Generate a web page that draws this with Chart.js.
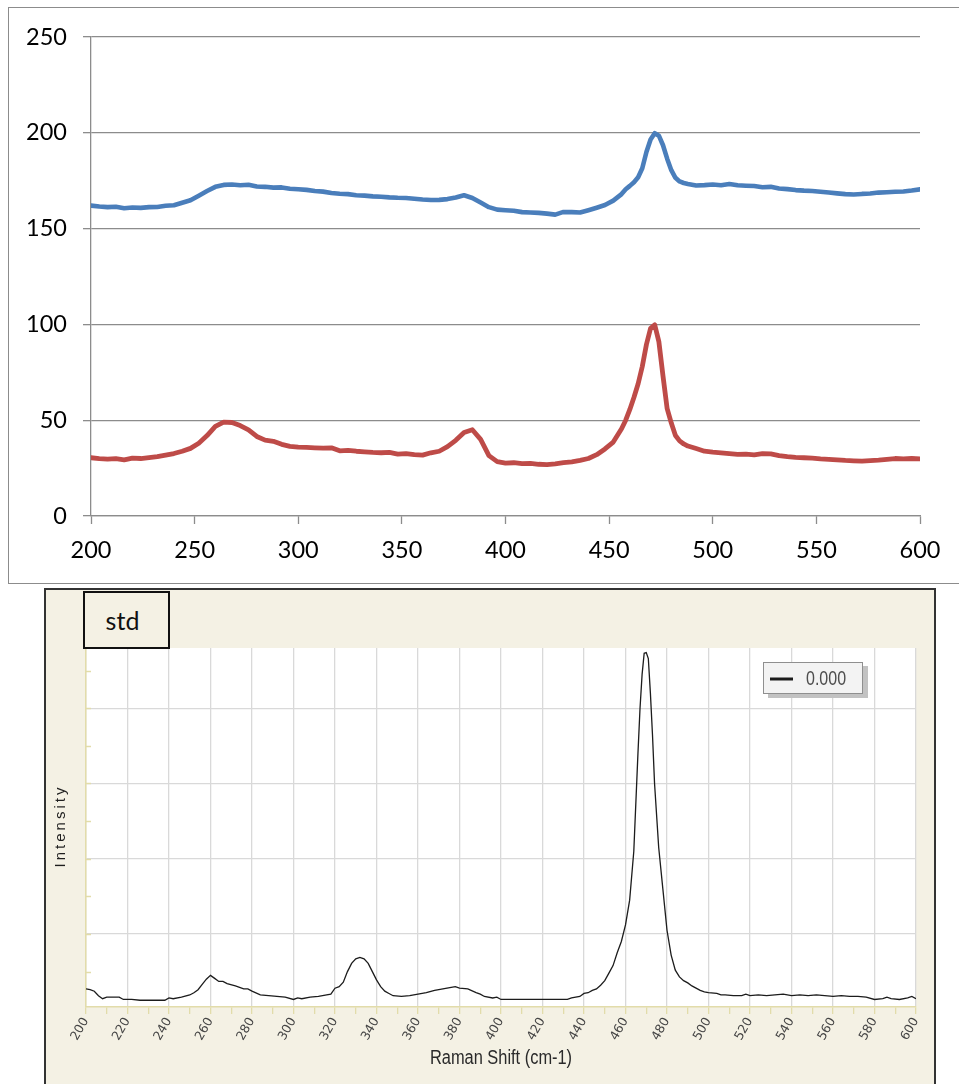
<!DOCTYPE html>
<html>
<head>
<meta charset="utf-8">
<script src="https://cdn.jsdelivr.net/npm/chart.js@4.4.1/dist/chart.umd.min.js"></script>
<style>
  html, body { margin: 0; padding: 0; background: #fff; width: 959px; height: 1084px; overflow: hidden; position: relative; }
  #frameTop { position: absolute; left: 8px; top: 7px; width: 1000px; height: 577px; border: 1.5px solid #8c8c8c; box-sizing: border-box; }
  #topWrap { position: absolute; left: 0; top: 0; width: 959px; height: 580px; }
  #frameStd { position: absolute; left: 44px; top: 588px; width: 892px; height: 520px; background: #f4f1e4; border: 2px solid #333; box-sizing: border-box; }
  #stdWrap { position: absolute; left: 0; top: 589px; width: 959px; height: 495px; }
  #stdTag { position: absolute; left: 83px; top: 591px; width: 87px; height: 58px; box-sizing: border-box; border: 2px solid #111; background: #f4f1e4;
            font: 25px Lato, "Open Sans", sans-serif; color: #111; display: flex; align-items: center; justify-content: center; padding-right: 8px; }
  canvas { display: block; }
</style>
</head>
<body>
<div id="frameTop"></div>
<div id="topWrap"><canvas id="topChart" width="959" height="580"></canvas></div>
<div id="frameStd"></div>
<div id="stdWrap"><canvas id="stdChart" width="959" height="495"></canvas></div>
<div id="stdTag">std</div>

<script>
// Raman shift positions (cm-1) shared by the two measured spectra
const topShift = [
  200,204,208,212,216,220,224,228,232,236,240,244,248,252,256,260,264,268,272,276,
  280,284,288,292,296,300,304,308,312,316,320,324,328,332,336,340,344,348,352,356,
  360,364,368,372,376,380,384,388,392,396,400,404,408,412,416,420,424,428,432,436,
  440,444,448,452,456,
  458,460,462,464,466,468,470,472,474,476,478,480,482,484,486,488,
  492,496,500,504,508,512,516,520,524,528,532,536,540,544,548,552,556,560,564,568,
  572,576,580,584,588,592,596,600
];

// Upper spectrum (blue)
const blueCounts = [
  162.0,161.5,161.2,161.4,160.6,161.0,160.8,161.2,161.3,161.9,162.2,163.5,164.8,167.2,169.6,171.8,172.8,173.0,172.6,172.9,
  172.0,171.8,171.4,171.5,170.8,170.5,170.2,169.6,169.3,168.6,168.2,168.0,167.4,167.2,166.8,166.6,166.3,166.1,166.0,165.6,
  165.2,164.9,165.0,165.4,166.2,167.4,166.0,163.6,161.2,159.9,159.6,159.3,158.6,158.4,158.2,157.8,157.3,158.7,158.6,158.4,
  159.6,160.9,162.3,164.6,168.0,
  170.5,172.3,174.2,176.8,181.5,190.0,196.5,199.8,198.5,193.5,186.5,180.5,176.5,174.6,173.8,173.3,
  172.5,172.7,173.0,172.6,173.3,172.6,172.4,172.2,171.6,171.8,170.9,170.6,170.1,169.8,169.6,169.2,168.8,168.4,168.0,167.8,
  168.1,168.3,168.8,169.0,169.2,169.4,169.9,170.5
];

// Lower spectrum (red)
const redCounts = [
  30.4,30.0,29.7,29.9,29.3,30.2,30.0,30.5,31.0,31.8,32.6,33.8,35.3,38.0,42.0,46.8,49.0,48.8,47.2,45.0,
  41.5,39.6,39.0,37.4,36.3,35.9,35.8,35.6,35.4,35.6,34.0,34.3,33.8,33.5,33.2,33.0,33.2,32.3,32.6,32.0,
  31.8,33.0,33.8,36.2,39.5,43.6,45.0,40.0,31.5,28.4,27.6,27.8,27.3,27.5,27.0,26.8,27.2,27.8,28.3,29.0,
  30.0,32.0,35.0,38.6,45.5,
  50.0,55.6,62.0,69.0,78.0,89.5,98.0,99.8,91.0,73.0,56.0,48.5,42.0,39.2,37.6,36.5,
  35.2,33.8,33.3,33.0,32.6,32.2,32.3,31.9,32.6,32.4,31.5,31.0,30.6,30.4,30.2,29.8,29.6,29.3,29.0,28.8,
  28.6,28.9,29.2,29.6,30.0,29.8,30.0,29.8
];

const topXTicks = [200, 250, 300, 350, 400, 450, 500, 550, 600];
const topYTicks = [0, 50, 100, 150, 200, 250];

// Reference standard spectrum
const stdShift = [
  200,202,204,206,208,210,214,216,218,222,226,230,234,238,240,242,246,250,252,254,
  256,258,260,262,264,266,268,272,276,278,280,284,288,292,296,300,302,304,308,312,
  316,318,320,322,324,326,328,330,332,334,336,338,340,342,344,346,348,352,356,360,
  364,368,372,376,378,380,384,388,390,392,396,398,400,404,408,412,416,420,424,428,
  432,434,438,440,442,444,446,448,450,452,454,456,458,460,462,464,466,467,468,469,
  470,471,472,473,474,476,478,480,482,484,486,488,490,492,494,496,498,500,504,506,
  508,512,516,518,520,524,528,532,536,540,544,548,552,556,560,564,568,572,576,580,
  584,586,588,592,596,598,600
];
const stdIntensity = [
  0.27,0.26,0.24,0.18,0.14,0.16,0.16,0.16,0.13,0.13,0.12,0.12,0.12,0.12,0.15,0.14,0.16,0.19,0.22,0.26,
  0.33,0.40,0.45,0.41,0.37,0.37,0.34,0.31,0.27,0.27,0.24,0.19,0.18,0.17,0.16,0.13,0.15,0.14,0.16,0.17,
  0.19,0.20,0.28,0.30,0.36,0.50,0.61,0.67,0.69,0.67,0.61,0.50,0.39,0.30,0.24,0.21,0.18,0.17,0.18,0.20,
  0.22,0.25,0.27,0.29,0.30,0.28,0.27,0.22,0.20,0.17,0.15,0.16,0.13,0.13,0.13,0.13,0.13,0.13,0.13,0.13,
  0.13,0.15,0.17,0.21,0.22,0.25,0.27,0.32,0.38,0.48,0.58,0.75,0.90,1.12,1.45,2.10,3.40,4.00,4.45,4.73,
  4.74,4.66,4.20,3.65,3.00,2.15,1.60,1.05,0.72,0.52,0.43,0.38,0.35,0.31,0.28,0.25,0.23,0.22,0.21,0.19,
  0.19,0.18,0.18,0.20,0.18,0.19,0.18,0.19,0.20,0.18,0.19,0.18,0.19,0.18,0.17,0.18,0.17,0.17,0.16,0.13,
  0.14,0.16,0.14,0.13,0.15,0.17,0.14
];
const stdXTicks = [200,210,220,230,240,250,260,270,280,290,300,310,320,330,340,350,360,370,380,390,
                   400,410,420,430,440,450,460,470,480,490,500,510,520,530,540,550,560,570,580,590,600];
const stdYTicks = [0.5,1,1.5,2,2.5,3,3.5,4,4.5];
const stdLegendLabel = '0.000';
const stdXTitle = 'Raman Shift (cm-1)';
const stdYTitle = 'Intensity';

const pairs = (xs, ys) => xs.map((x, i) => ({ x: x, y: ys[i] }));
const asTicks = vals => vals.map(v => ({ value: v }));

const AXIS_GRAY = '#8c8c8c';
const TICK_FONT = { family: 'Lato, "Open Sans", sans-serif', size: 23.5 };

new Chart(document.getElementById('topChart'), {
  type: 'line',
  data: {
    datasets: [
      { label: 'Spectrum 1', data: pairs(topShift, blueCounts), borderColor: '#4a7ebb', borderWidth: 4.6,
        pointRadius: 0, tension: 0, borderJoinStyle: 'round', borderCapStyle: 'round' },
      { label: 'Spectrum 2', data: pairs(topShift, redCounts), borderColor: '#be4b48', borderWidth: 4.8,
        pointRadius: 0, tension: 0, borderJoinStyle: 'round', borderCapStyle: 'round' }
    ]
  },
  options: {
    responsive: false, animation: false, devicePixelRatio: 1,
    layout: { padding: { left: 0, top: 37, right: 39, bottom: 0 } },
    plugins: { legend: { display: false }, tooltip: { enabled: false } },
    scales: {
      x: {
        type: 'linear', min: 200, max: 600,
        afterBuildTicks: s => { s.ticks = asTicks(topXTicks); },
        afterFit: s => { s.height = 64; },
        grid: { drawOnChartArea: false, drawTicks: true, tickLength: 8, tickColor: AXIS_GRAY, tickWidth: 1.3 },
        border: { display: true, color: AXIS_GRAY, width: 1.3 },
        ticks: { autoSkip: false, maxRotation: 0, padding: 12, color: '#000', font: TICK_FONT }
      },
      y: {
        min: 0, max: 250,
        afterBuildTicks: s => { s.ticks = asTicks(topYTicks); },
        afterFit: s => { s.width = 91; },
        grid: { color: AXIS_GRAY, lineWidth: 1.3, tickLength: 8, tickColor: AXIS_GRAY, tickWidth: 1.3 },
        border: { display: true, color: AXIS_GRAY, width: 1.3 },
        ticks: { padding: 16, color: '#000', font: TICK_FONT }
      }
    }
  }
});

const AXIS_YELLOW = '#e2dcaa';
const GRID_LIGHT = '#d9d9d9';
const CAPTION_FONT = "'Liberation Sans', Arial, sans-serif";

// Draws text squeezed horizontally, giving a narrow face
function narrowText(ctx, text, x, y, size, squeeze, align) {
  ctx.save();
  ctx.translate(x, y);
  ctx.scale(squeeze, 1);
  ctx.font = size + 'px ' + CAPTION_FONT;
  ctx.textAlign = align;
  ctx.textBaseline = 'middle';
  ctx.fillText(text, 0, 0);
  ctx.restore();
}

// White plotting field on the beige panel
const plotField = {
  id: 'plotField',
  beforeDraw(chart) {
    const { ctx, chartArea: a } = chart;
    ctx.save();
    ctx.fillStyle = '#ffffff';
    ctx.fillRect(a.left, a.top, a.right - a.left, a.bottom - a.top);
    ctx.restore();
  }
};

// Short inward tick marks on the intensity axis
const innerTicks = {
  id: 'innerTicks',
  beforeDatasetsDraw(chart) {
    const { ctx, chartArea: a, scales: { y } } = chart;
    ctx.save();
    ctx.strokeStyle = AXIS_YELLOW;
    ctx.lineWidth = 1.5;
    y.ticks.forEach(t => {
      const py = Math.round(y.getPixelForValue(t.value)) + 0.5;
      ctx.beginPath();
      ctx.moveTo(a.left, py);
      ctx.lineTo(a.left + 5, py);
      ctx.stroke();
    });
    ctx.restore();
  }
};

// Axis captions: spaced vertical caption and narrow horizontal caption
const axisCaptions = {
  id: 'axisCaptions',
  afterDraw(chart) {
    const { ctx, chartArea: a } = chart;
    ctx.save();
    ctx.translate(61, (a.top + a.bottom) / 2);
    ctx.rotate(-Math.PI / 2);
    ctx.font = '15px ' + CAPTION_FONT;
    ctx.letterSpacing = '3px';
    ctx.fillStyle = '#1e1e1e';
    ctx.textAlign = 'center';
    ctx.textBaseline = 'middle';
    ctx.fillText(stdYTitle, 1.5, 0);
    ctx.restore();

    ctx.save();
    ctx.fillStyle = '#2a2a2a';
    narrowText(ctx, stdXTitle, (a.left + a.right) / 2, a.bottom + 51, 20, 0.82, 'center');
    ctx.restore();
  }
};

// Boxed legend with drop shadow
const boxLegend = {
  id: 'boxLegend',
  afterDraw(chart) {
    const { ctx, chartArea: a } = chart;
    const ds = chart.data.datasets[0];
    const w = 100, h = 32;
    const x = a.right - 53 - w, y = a.top + 14;
    ctx.save();
    ctx.fillStyle = '#c2c2c2';
    ctx.fillRect(x + 5, y + 4, w, h);
    ctx.fillStyle = '#f3f3f3';
    ctx.fillRect(x, y, w, h);
    ctx.strokeStyle = '#8f8f8f';
    ctx.lineWidth = 1;
    ctx.strokeRect(x + 0.5, y + 0.5, w - 1, h - 1);
    ctx.strokeStyle = ds.borderColor;
    ctx.lineWidth = 3;
    ctx.beginPath();
    ctx.moveTo(x + 7, y + h / 2 + 1);
    ctx.lineTo(x + 30, y + h / 2 + 1);
    ctx.stroke();
    ctx.fillStyle = '#4e4e4e';
    narrowText(ctx, ds.label, x + 43, y + h / 2 + 1, 20, 0.8, 'left');
    ctx.restore();
  }
};

new Chart(document.getElementById('stdChart'), {
  type: 'line',
  data: {
    datasets: [
      { label: stdLegendLabel, data: pairs(stdShift, stdIntensity), borderColor: '#1c1c1c', borderWidth: 1.3,
        pointRadius: 0, tension: 0 }
    ]
  },
  options: {
    responsive: false, animation: false, devicePixelRatio: 1,
    layout: { padding: { left: 0, top: 59, right: 43, bottom: 0 } },
    plugins: { legend: { display: false }, tooltip: { enabled: false } },
    scales: {
      x: {
        type: 'linear', min: 200, max: 600,
        afterBuildTicks: s => { s.ticks = asTicks(stdXTicks); },
        afterFit: s => { s.height = 77; },
        grid: {
          color: c => (c.tick && c.tick.value % 20 === 0) ? GRID_LIGHT : 'rgba(0,0,0,0)',
          lineWidth: 1.3, drawTicks: true, tickLength: 7, tickColor: AXIS_YELLOW, tickWidth: 1.3
        },
        border: { display: true, color: AXIS_YELLOW, width: 1.5 },
        ticks: {
          autoSkip: false, minRotation: 60, maxRotation: 60, padding: 1, color: '#454545',
          font: { family: "'DejaVu Sans', sans-serif", size: 12.5 },
          callback: v => (v % 20 === 0 ? String(v) : '')
        },
        title: { display: false }
      },
      y: {
        min: 0.03, max: 4.8,
        afterBuildTicks: s => { s.ticks = asTicks(stdYTicks); },
        afterFit: s => { s.width = 86; },
        grid: {
          color: c => (c.tick && Number.isInteger(c.tick.value)) ? GRID_LIGHT : 'rgba(0,0,0,0)',
          lineWidth: 1.3, drawTicks: false
        },
        border: { display: true, color: AXIS_YELLOW, width: 1.5 },
        ticks: { display: false }
      }
    }
  },
  plugins: [plotField, innerTicks, axisCaptions, boxLegend]
});
</script>
</body>
</html>
